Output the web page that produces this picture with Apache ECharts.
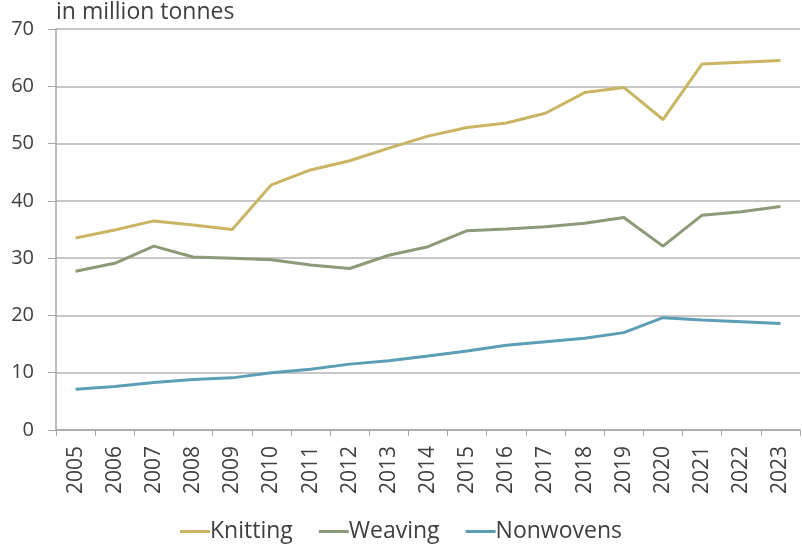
<!DOCTYPE html>
<html>
<head>
<meta charset="utf-8">
<script src="https://cdn.jsdelivr.net/npm/echarts@6/dist/echarts.min.js"></script>
<style>html,body{margin:0;padding:0;background:#fff}#c{width:802px;height:545px}</style>
</head>
<body>
<div id="c"></div>
<script>
var years = ['2005','2006','2007','2008','2009','2010','2011','2012','2013','2014','2015','2016','2017','2018','2019','2020','2021','2022','2023'];
var knitting = [33.5,34.9,36.5,35.8,35.0,42.8,45.4,47.0,49.2,51.3,52.8,53.6,55.3,58.9,59.8,54.2,63.9,64.2,64.5];
var weaving = [27.7,29.1,32.1,30.2,30.0,29.7,28.8,28.2,30.5,32.0,34.8,35.1,35.5,36.1,37.1,32.1,37.5,38.1,39.0];
var nonwovens = [7.1,7.6,8.3,8.8,9.1,10.0,10.6,11.5,12.1,12.9,13.8,14.8,15.4,16.0,17.0,19.6,19.2,18.9,18.6];
var yTicks = [0,10,20,30,40,50,60,70];

var font = '"Open Sans", sans-serif';
var chart = echarts.init(document.getElementById('c'));
function mk(name, data, color){
  return {name:name, type:'line', data:data, symbol:'none', smooth:false,
    lineStyle:{width:3, color:color}, itemStyle:{color:color}};
}
chart.setOption({
  animation:false,
  title:{text:'in million tonnes', left:56, top:1, padding:0, textStyle:{fontFamily:font, fontSize:23, fontWeight:'normal', color:'#404040'}},
  grid:{left:56, right:2, top:29, bottom:115},
  legend:{top:515, left:'center', itemWidth:30, itemHeight:3, itemGap:26, icon:'rect',
    textStyle:{fontFamily:font, fontSize:23, color:'#404040', padding:[0,0,0,-5]},
    data:['Knitting','Weaving','Nonwovens']},
  xAxis:{type:'category', data:years, boundaryGap:true,
    axisLine:{lineStyle:{color:'#a6a6a6', width:1.5}},
    axisTick:{show:true, length:6, lineStyle:{color:'#a6a6a6'}},
    axisLabel:{rotate:90, fontFamily:font, fontSize:21, color:'#404040', margin:16}},
  yAxis:{type:'value', min:yTicks[0], max:yTicks[yTicks.length-1], interval:10,
    axisLine:{show:true, lineStyle:{color:'#a6a6a6', width:1.5}},
    axisTick:{show:true, length:8, lineStyle:{color:'#a6a6a6'}},
    splitLine:{lineStyle:{color:'#b5b5b5', width:1.5}},
    axisLabel:{fontFamily:font, fontSize:20, color:'#404040', margin:22}},
  series:[mk('Knitting', knitting, '#c9b564'), mk('Weaving', weaving, '#8c9a78'), mk('Nonwovens', nonwovens, '#5c9fb4')]
});
</script>
</body>
</html>
